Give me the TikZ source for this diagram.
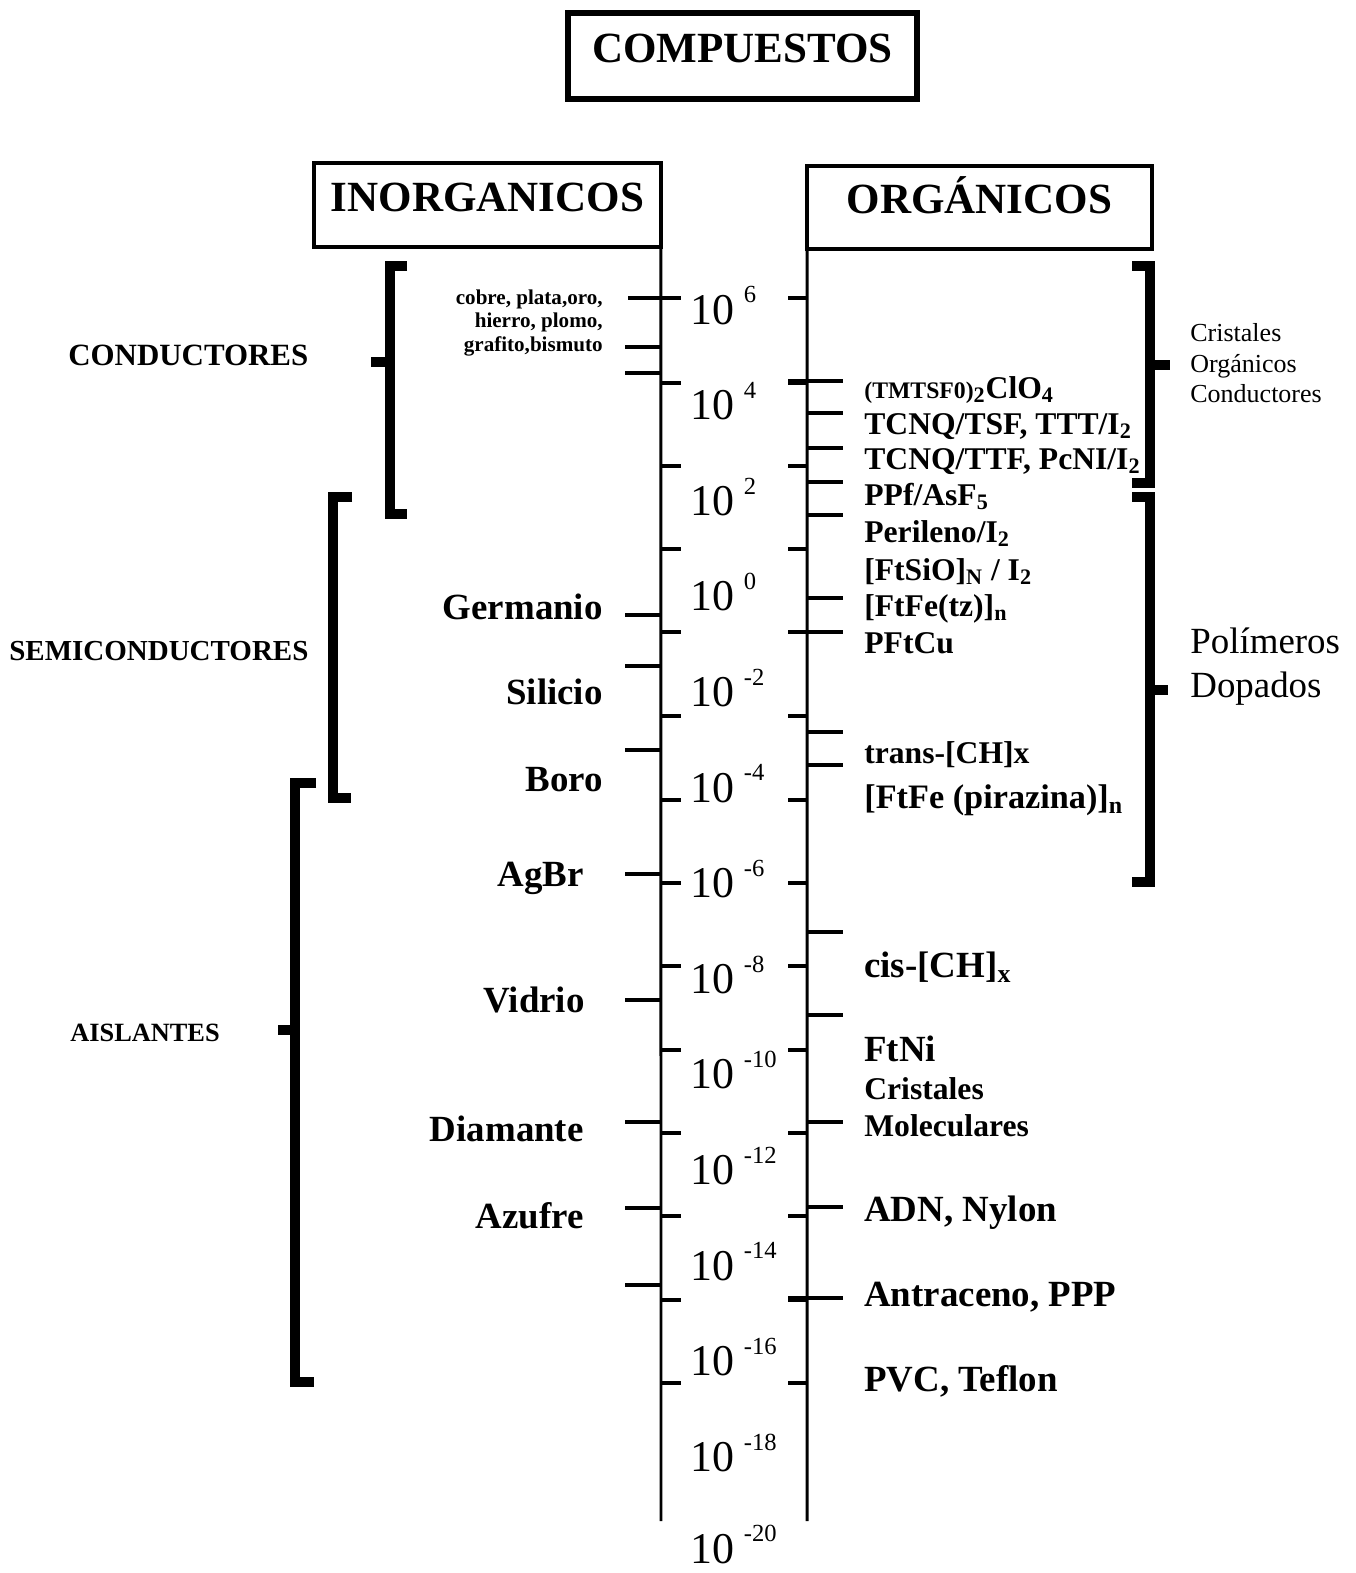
\documentclass[tikz,border=0pt]{standalone}
\usepackage{fontspec}
\setmainfont{Liberation Serif}

\newcommand{\decexp}[1]{\hspace{5.5pt}\raisebox{12pt}{\fontsize{14}{16}\selectfont #1}}

\tikzset{
  hdr/.style={draw, line width=2.3pt, inner sep=0pt, outer sep=0pt,
    text height=16.2pt, text depth=9pt, font=\bfseries\fontsize{24.5}{28}\selectfont},
  axis/.style={line width=1.7pt},
  tk/.style={line width=2.8pt},
  brk/.style={line width=5.6pt, line join=miter},
  dec/.style={anchor=base west, inner sep=0pt, font=\fontsize{25}{29}\selectfont},
  inl/.style={anchor=base east, inner sep=0pt, font=\bfseries\fontsize{21}{24}\selectfont},
  sml/.style={anchor=base east, inner sep=0pt, font=\bfseries\fontsize{12}{14}\selectfont},
  orl/.style={anchor=base west, inner sep=0pt, font=\bfseries\fontsize{18}{21}\selectfont},
  orL/.style={anchor=base west, inner sep=0pt, font=\bfseries\fontsize{21}{24}\selectfont},
  cat/.style={anchor=base west, inner sep=0pt},
}

\begin{document}
\begin{tikzpicture}[x=0.02cm, y=-0.02cm]
\useasboundingbox (0,0) rectangle (1356,1573);

%% heading boxes
\node[hdr, line width=3.4pt, minimum width=6.98cm, minimum height=1.72cm] (comp) at (742.5,56) {COMPUESTOS};
\node[hdr, minimum width=6.94cm, minimum height=1.68cm] (inorg) at (487.5,205) {INORGANICOS};
\node[hdr, minimum width=6.9cm, minimum height=1.66cm] (org) at (979.5,207.5) {ORGÁNICOS};

%% the two scale lines
\coordinate (lbot) at (661,1521);
\coordinate (rbot) at (807,1521);
\draw[axis] (inorg.south east) -- (lbot); % left line
\draw[axis] (org.south west) -- (rbot); % right line

%% decade marks, both lines
\draw[tk] (661,383) -- (681,383) (661,466) -- (681,466) (661,549) -- (681,549)
  (661,632) -- (681,632) (661,716) -- (681,716) (661,800) -- (681,800)
  (661,883) -- (681,883) (661,966) -- (681,966) (661,1050) -- (681,1050)
  (661,1133) -- (681,1133) (661,1216) -- (681,1216) (661,1300) -- (681,1300)
  (661,1383) -- (681,1383); % right of left line
\draw[tk] (788,298) -- (807,298) (788,383) -- (807,383) (788,466) -- (807,466)
  (788,549) -- (807,549) (788,632) -- (807,632) (788,716) -- (807,716)
  (788,800) -- (807,800) (788,883) -- (807,883) (788,966) -- (807,966)
  (788,1050) -- (807,1050) (788,1133) -- (807,1133) (788,1216) -- (807,1216)
  (788,1300) -- (807,1300) (788,1383) -- (807,1383); % left of right line

%% decade labels
\node[dec] (d6) at (690,324) {10\decexp{6}};
\node[dec] (d4) at (690,419.6) {10\decexp{4}};
\node[dec] (d2) at (690,515.2) {10\decexp{2}};
\node[dec] (d0) at (690,610.8) {10\decexp{0}};
\node[dec] (dm2) at (690,706.4) {10\decexp{-2}};
\node[dec] (dm4) at (690,802) {10\decexp{-4}};
\node[dec] (dm6) at (690,897.6) {10\decexp{-6}};
\node[dec] (dm8) at (690,993.2) {10\decexp{-8}};
\node[dec] (dm10) at (690,1088.8) {10\decexp{-10}};
\node[dec] (dm12) at (690,1184.4) {10\decexp{-12}};
\node[dec] (dm14) at (690,1280) {10\decexp{-14}};
\node[dec] (dm16) at (690,1375.6) {10\decexp{-16}};
\node[dec] (dm18) at (690,1471.2) {10\decexp{-18}};
\node[dec] (dm20) at (690,1563) {10\decexp{-20}};

%% inorganic side
\draw[tk] (628,298) -- (681,298); % metals, across the line
\draw[tk] (625,347) -- (661,347) (625,373) -- (661,373) (625,615) -- (661,615)
  (625,666) -- (661,666) (625,750) -- (661,750) (625,874) -- (661,874)
  (625,1000) -- (661,1000) (625,1122) -- (661,1122) (625,1208) -- (661,1208)
  (625,1285) -- (661,1285); % left of left line
\node[sml] (cobre) at (603,304) {cobre, plata,oro,};
\node[sml] (hierro) at (603,327) {hierro, plomo,};
\node[sml] (grafito) at (603,351) {grafito,bismuto};
\node[inl] (germ) at (603,619) {Germanio};
\node[inl] (sil) at (603,704) {Silicio};
\node[inl] (boro) at (603,791) {Boro};
\node[inl] (agbr) at (584,886) {AgBr};
\node[inl] (vidrio) at (585,1012) {Vidrio};
\node[inl] (diam) at (584,1141) {Diamante};
\node[inl] (azuf) at (584,1228) {Azufre};

%% organic side
\draw[tk] (788,381) -- (843,381) (788,632) -- (843,632) (788,1298) -- (843,1298); % across the line
\draw[tk] (807,413) -- (843,413) (807,448) -- (843,448) (807,482) -- (843,482)
  (807,515) -- (843,515) (807,598) -- (843,598) (807,732) -- (843,732)
  (807,765) -- (843,765) (807,932) -- (843,932) (807,1015) -- (843,1015)
  (807,1122) -- (843,1122) (807,1207) -- (843,1207); % right of right line
\node[orl] (tmtsf) at (864,398) {{\fontsize{13.5}{15}\selectfont (TMTSF0)}\textsubscript{2}ClO\textsubscript{4}};
\node[orl] (tcnqa) at (864,434) {TCNQ/TSF, TTT/I\textsubscript{2}};
\node[orl] (tcnqb) at (864,469) {TCNQ/TTF, PcNI/I\textsubscript{2}};
\node[orl] (ppf) at (864,505) {PPf/AsF\textsubscript{5}};
\node[orl] (peril) at (864,542) {Perileno/I\textsubscript{2}};
\node[orl] (ftsio) at (864,580) {[FtSiO]\textsubscript{N} / I\textsubscript{2}};
\node[orl] (ftfetz) at (864,616) {[FtFe(tz)]\textsubscript{n}};
\node[orl] (pftcu) at (864,653) {PFtCu};
\node[orl] (trans) at (864,763) {trans-[CH]x};
\node[orl, font=\bfseries\fontsize{19.5}{22}\selectfont] (ftfepir) at (864,808) {[FtFe (pirazina)]\textsubscript{n}};
\node[orL] (cis) at (864,977) {cis-[CH]\textsubscript{x}};
\node[orL] (ftni) at (864,1061) {FtNi};
\node[orl] (crist) at (864,1099) {Cristales};
\node[orl] (molec) at (864,1136) {Moleculares};
\node[orL] (adn) at (864,1221) {ADN, Nylon};
\node[orL] (antrac) at (864,1306) {Antraceno, PPP};
\node[orL] (pvc) at (864,1391) {PVC, Teflon};

%% brackets left
\draw[brk] (407,266) -- (390,266) -- (390,514) -- (407,514); % conductores
\draw[brk] (390,362) -- (371,362);
\draw[brk] (352,497) -- (333,497) -- (333,798) -- (351,798); % semiconductores
\draw[brk] (316,783) -- (295,783) -- (295,1382) -- (314,1382); % aislantes
\draw[brk] (295,1030) -- (278,1030);
\node[cat, font=\bfseries\fontsize{17.6}{20}\selectfont] (cond) at (68,365) {CONDUCTORES};
\node[cat, font=\bfseries\fontsize{16.5}{19}\selectfont] (semi) at (9,660) {SEMICONDUCTORES};
\node[cat, font=\bfseries\fontsize{15}{18}\selectfont] (aisl) at (70,1041) {AISLANTES};

%% brackets right
\draw[brk] (1132,266) -- (1150,266) -- (1150,483) -- (1132,483); % cristales
\draw[brk] (1150,365) -- (1170,365);
\draw[brk] (1132,497) -- (1150,497) -- (1150,882) -- (1132,882); % polimeros
\draw[brk] (1150,690) -- (1168,690);
\node[cat, font=\fontsize{14.8}{17}\selectfont] (cri) at (1190,341) {Cristales};
\node[cat, font=\fontsize{14.8}{17}\selectfont] (orgc) at (1190,372) {Orgánicos};
\node[cat, font=\fontsize{14.8}{17}\selectfont] (condc) at (1190,402) {Conductores};
\node[cat, font=\fontsize{21}{24}\selectfont] (polim) at (1190,653) {Polímeros};
\node[cat, font=\fontsize{21}{24}\selectfont] (dopad) at (1190,697) {Dopados};

\end{tikzpicture}
\end{document}
